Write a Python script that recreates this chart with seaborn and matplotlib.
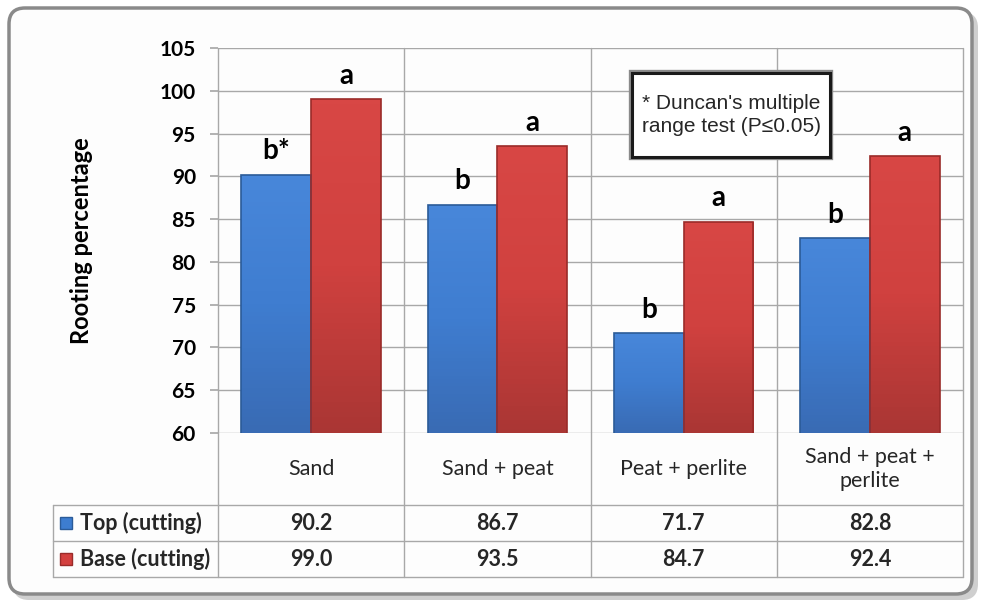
import numpy as np
import pandas as pd
import matplotlib.pyplot as plt
import matplotlib.transforms as mtransforms
from matplotlib.patches import FancyBboxPatch, Rectangle
from matplotlib.lines import Line2D
from matplotlib.colors import LinearSegmentedColormap
import seaborn as sns

# data
media = ['Sand', 'Sand + peat', 'Peat + perlite', 'Sand + peat +\nperlite']
series = ['Top (cutting)', 'Base (cutting)']
top_vals = [90.2, 86.7, 71.7, 82.8]
base_vals = [99.0, 93.5, 84.7, 92.4]
top_letters = ['b*', 'b', 'b', 'b']
base_letters = ['a', 'a', 'a', 'a']
y_ticks = list(range(60, 106, 5))

blue = '#3d7dd0'
red = '#d3403e'
blue_edge = '#2b5b98'
red_edge = '#9a2b29'
grid_col = '#a8a8a8'

df = pd.DataFrame({
    'medium': media * 2,
    'cutting': [series[0]] * len(media) + [series[1]] * len(media),
    'pct': top_vals + base_vals,
})

sns.set_theme(style='white')
plt.rcParams['font.family'] = ['Lato', 'DejaVu Sans']

W, H = 981, 605
fig = plt.figure(figsize=(W / 100, H / 100), dpi=100)
fig.patch.set_facecolor('white')
# pixel coords, y measured from the top
px = mtransforms.Affine2D().scale(1 / W, -1 / H).translate(0, 1) + fig.transFigure

# rounded frame with a soft shadow
fig.add_artist(FancyBboxPatch((13, 12), 965, 588, boxstyle='round,pad=0,rounding_size=16',
                              transform=px, fc='#cfcfcf', ec='none', zorder=-3))
fig.add_artist(FancyBboxPatch((9, 8), 963, 586, boxstyle='round,pad=0,rounding_size=16',
                              transform=px, fc='#fdfdfd', ec='#8a8a8a', lw=2.5, zorder=-2))

ax = fig.add_axes([218 / W, 1 - 433 / H, (963 - 218) / W, (433 - 48) / H])
ax.set_facecolor('none')
sns.barplot(data=df, x='medium', y='pct', hue='cutting', palette=[blue, red],
            width=0.75, saturation=1, legend=False, ax=ax)

ax.set_ylim(60, 105)
ax.set_xlim(-0.5, len(media) - 0.5)

# Excel-like vertical shading on the bars
shades = [LinearSegmentedColormap.from_list('b', ['#396bb4', '#3f7dd0', '#4887da']),
          LinearSegmentedColormap.from_list('r', ['#aa3634', '#d0413f', '#d84745'])]
grad = np.linspace(0, 1, 64).reshape(-1, 1)
for cont, ec, cm in zip(ax.containers, [blue_edge, red_edge], shades):
    for bar in cont:
        bar.set_edgecolor(ec)
        bar.set_linewidth(1.2)
        x0, w, h = bar.get_x(), bar.get_width(), bar.get_height()
        im = ax.imshow(grad, cmap=cm, origin='lower', aspect='auto',
                       extent=[x0, x0 + w, 60, h], zorder=bar.get_zorder() + 0.1)
        im.set_clip_path(bar)
        bar.set_zorder(bar.get_zorder() + 0.2)
        bar.set_facecolor('none')
ax.set_xlim(-0.5, len(media) - 0.5)
ax.set_ylim(60, 105)

ax.set_yticks(y_ticks)
ax.yaxis.grid(True, color=grid_col, lw=1)
ax.set_axisbelow(True)
for s in ax.spines.values():
    s.set_visible(False)
ax.set_xticks(range(len(media)))
ax.set_xticklabels([])
ax.tick_params(axis='x', length=0)
ax.tick_params(axis='y', left=True, length=6, color=grid_col, pad=10)
for lab in ax.get_yticklabels():
    lab.set_fontweight('bold')
    lab.set_fontsize(15)
    lab.set_color('black')
ax.set_xlabel('')
ax.set_ylabel('Rooting percentage', fontsize=17, fontweight='bold', color='black')
ax.yaxis.set_label_coords(-0.168, 0.5)

# significance letters
off = 0.75 / 4
for i in range(len(media)):
    ax.text(i - off, top_vals[i] + 1.2, top_letters[i], ha='center', va='bottom',
            fontsize=20, fontweight='bold', color='black')
    ax.text(i + off, base_vals[i] + 1.2, base_letters[i], ha='center', va='bottom',
            fontsize=20, fontweight='bold', color='black')

# note box
fig.add_artist(Rectangle((633, 74), 196, 82, transform=px, fc='none', ec='#8a8a8a', lw=6, zorder=4))
fig.add_artist(Rectangle((632, 73), 198, 84, transform=px, fc='white', ec='#1a1a1a', lw=2.2, zorder=5))
fig.text(731, 115, "* Duncan's multiple\nrange test (P\u22640.05)", transform=px, ha='center', va='center',
         fontsize=15, family=['Liberation Sans', 'DejaVu Sans'], linespacing=1.3, zorder=6)

# data table under the chart
bt = mtransforms.blended_transform_factory(ax.transData, px)
for xd in np.arange(-0.5, len(media), 1.0):
    fig.add_artist(Line2D([xd, xd], [48, 577], transform=bt, color=grid_col, lw=1))
for yp in [505, 541, 577]:
    fig.add_artist(Line2D([53, 963], [yp, yp], transform=px, color=grid_col, lw=1))
fig.add_artist(Line2D([53, 53], [505, 577], transform=px, color=grid_col, lw=1))

for i, m in enumerate(media):
    fig.text(i, 469, m, transform=bt, ha='center', va='center', fontsize=15.5, linespacing=1.25)
    fig.text(i, 523, f'{top_vals[i]:.1f}', transform=bt, ha='center', va='center',
             fontsize=15.5, fontweight='bold')
    fig.text(i, 559, f'{base_vals[i]:.1f}', transform=bt, ha='center', va='center',
             fontsize=15.5, fontweight='bold')

for yp, name, fc, ec in [(523, series[0], blue, blue_edge), (559, series[1], red, red_edge)]:
    fig.add_artist(Rectangle((60, yp - 6), 12, 12, transform=px, fc=fc, ec=ec, lw=1))
    fig.text(80, yp, name, transform=px, ha='left', va='center', fontsize=15.5, fontweight='bold')

fig.savefig('out.png', dpi=100, facecolor='white')
